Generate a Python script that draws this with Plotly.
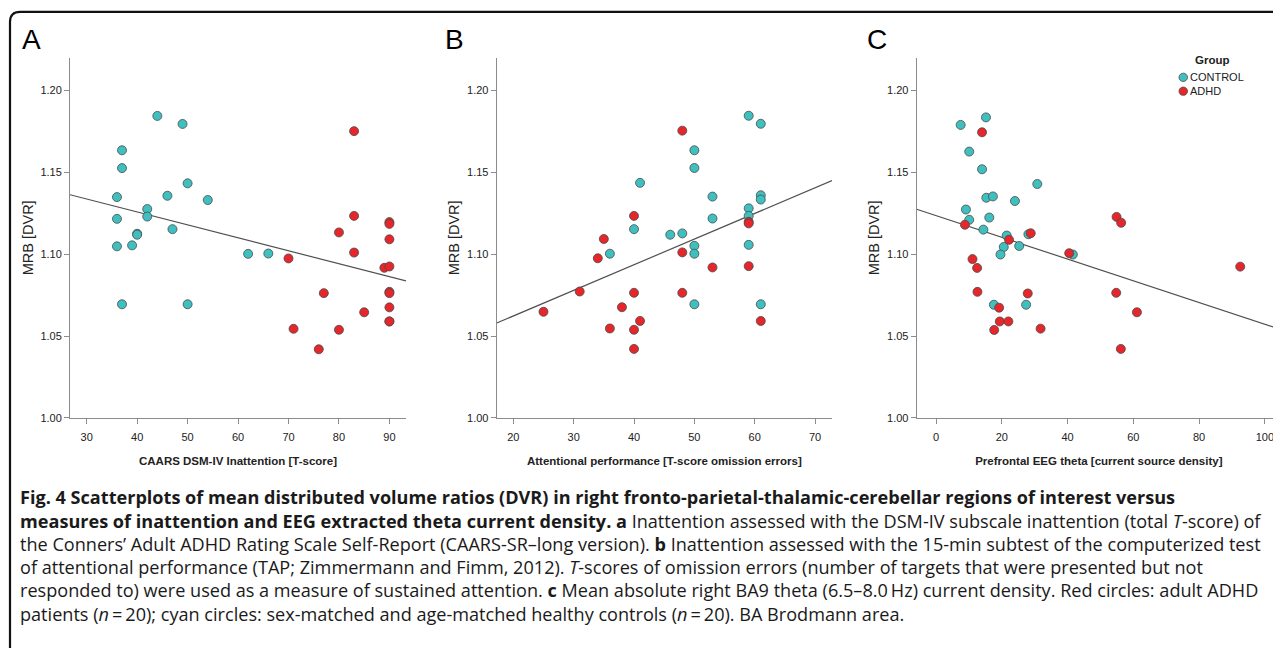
import numpy as np
import plotly.graph_objects as go

# page body has an 8px margin; figure sized to fill the rest of the window
OFF = 8
W, H = 1281 - OFF, 648 - OFF

# ---------------- data ----------------
# Panel A: CAARS DSM-IV Inattention [T-score]
a_ctrl_x = [44, 49, 37, 37, 36, 46, 50, 54, 42, 42, 36, 40, 40, 47, 36, 39, 62, 66, 37, 50]
a_ctrl_y = [1.1845, 1.1796, 1.1635, 1.1526, 1.1349, 1.1357, 1.1433, 1.1331, 1.1276, 1.1230,
            1.1216, 1.1125, 1.1119, 1.1153, 1.1048, 1.1054, 1.1002, 1.1004, 1.0694, 1.0694]
a_adhd_x = [83, 83, 80, 83, 70, 90, 90, 90, 89, 90, 77, 90, 90, 85, 90, 90, 90, 71, 80, 76]
a_adhd_y = [1.1752, 1.1234, 1.1133, 1.1010, 1.0974, 1.1196, 1.1185, 1.1091, 1.0917, 1.0925,
            1.0762, 1.0770, 1.0762, 1.0645, 1.0675, 1.0589, 1.0589, 1.0544, 1.0538, 1.0419]

# Panel B: Attentional performance [T-score omission errors]
b_ctrl_x = [59, 61, 50, 50, 41, 53, 61, 61, 59, 59, 53, 40, 46, 48, 50, 59, 36, 50, 50, 61]
b_ctrl_y = [1.1846, 1.1797, 1.1635, 1.1527, 1.1436, 1.1352, 1.1360, 1.1334, 1.1280, 1.1234,
            1.1218, 1.1153, 1.1119, 1.1127, 1.1051, 1.1057, 1.1003, 1.1003, 1.0694, 1.0694]
b_adhd_x = [48, 40, 35, 34, 48, 59, 59, 53, 59, 31, 40, 48, 38, 25, 41, 61, 36, 40, 40]
b_adhd_y = [1.1755, 1.1234, 1.1093, 1.0975, 1.1011, 1.1198, 1.1188, 1.0919, 1.0927, 1.0772,
            1.0764, 1.0764, 1.0676, 1.0648, 1.0592, 1.0592, 1.0546, 1.0538, 1.0421]

# Panel C: Prefrontal EEG theta [current source density]
c_ctrl_x = [7.5, 15.2, 10.1, 14.0, 30.8, 15.3, 17.3, 24.0, 9.1, 10.1,
            16.2, 14.4, 21.5, 28.1, 20.6, 25.3, 19.6, 41.6, 17.6, 27.4]
c_ctrl_y = [1.1790, 1.1836, 1.1627, 1.1519, 1.1429, 1.1345, 1.1353, 1.1325, 1.1273, 1.1210,
            1.1224, 1.1150, 1.1114, 1.1122, 1.1044, 1.1050, 1.0998, 1.0998, 1.0691, 1.0691]
c_adhd_x = [14.0, 54.9, 56.3, 8.8, 28.8, 22.2, 40.5, 11.1, 12.5, 92.5,
            12.6, 27.9, 54.8, 19.2, 61.1, 19.4, 22.0, 17.7, 31.8, 56.2]
c_adhd_y = [1.1745, 1.1228, 1.1192, 1.1180, 1.1128, 1.1088, 1.1006, 1.0970, 1.0916, 1.0924,
            1.0770, 1.0760, 1.0764, 1.0673, 1.0645, 1.0589, 1.0589, 1.0537, 1.0545, 1.0421]

x_titles = ["CAARS DSM-IV Inattention [T-score]",
            "Attentional performance [T-score omission errors]",
            "Prefrontal EEG theta [current source density]"]
y_title = "MRB [DVR]"
panel_letters = ["A", "B", "C"]
x_ticks = [[30, 40, 50, 60, 70, 80, 90],
           [20, 30, 40, 50, 60, 70],
           [0, 20, 40, 60, 80, 100]]
y_ticks = [1.00, 1.05, 1.10, 1.15, 1.20]
group_names = ["CONTROL", "ADHD"]

caption_lines = [
    "<b>Fig. 4 Scatterplots of mean distributed volume ratios (DVR) in right fronto-parietal-thalamic-cerebellar regions of interest versus</b>",
    "<b>measures of inattention and EEG extracted theta current density. a</b> Inattention assessed with the DSM-IV subscale inattention (total <i>T</i>-score) of",
    "the Conners\u2019 Adult ADHD Rating Scale Self-Report (CAARS-SR\u2013long version). <b>b</b> Inattention assessed with the 15-min subtest of the computerized test",
    "of attentional performance (TAP; Zimmermann and Fimm, 2012). <i>T</i>-scores of omission errors (number of targets that were presented but not",
    "responded to) were used as a measure of sustained attention. <b>c</b> Mean absolute right BA9 theta (6.5\u20138.0\u2009Hz) current density. Red circles: adult ADHD",
    "patients (<i>n</i>\u2009=\u200920); cyan circles: sex-matched and age-matched healthy controls (<i>n</i>\u2009=\u200920). BA Brodmann area.",
]

# ---------------- style ----------------
CYAN = "#40bfbf"
RED = "#e5262b"
EDGE = "#4a4a4a"
AXIS = "#8c8c8c"
TXT = "#222222"
AFONT = "Liberation Sans, Arial, sans-serif"
CFONT = "Open Sans, sans-serif"

# screen-pixel layout (left, right) of each plot area and x ranges
px_x = [(70, 406), (496.7, 832), (916.7, 1281)]
x_ranges = [(26.69, 93.29), (17.25, 72.8), (-5.87, 104.9)]
py_bottom, py_top = 421.7, 58.3
y_range = (1.00, 1.22)

def px2x(p):
    return (p - OFF) / W

def py2y(p):
    return 1 - (p - OFF) / H

fig = go.Figure()

panels = [
    (a_ctrl_x, a_ctrl_y, a_adhd_x, a_adhd_y),
    (b_ctrl_x, b_ctrl_y, b_adhd_x, b_adhd_y),
    (c_ctrl_x, c_ctrl_y, c_adhd_x, c_adhd_y),
]

for i, (cx, cy, rx, ry) in enumerate(panels):
    xa = "x" if i == 0 else f"x{i+1}"
    ya = "y" if i == 0 else f"y{i+1}"
    allx = np.array(cx + rx, dtype=float)
    ally = np.array(cy + ry, dtype=float)
    slope, icpt = np.polyfit(allx, ally, 1)
    lx = np.array(x_ranges[i])
    fig.add_trace(go.Scatter(x=lx, y=slope * lx + icpt, mode="lines",
                             line=dict(color="#505050", width=1.2),
                             xaxis=xa, yaxis=ya, showlegend=False, hoverinfo="skip"))
    fig.add_trace(go.Scatter(x=cx, y=cy, mode="markers", name=group_names[0],
                             marker=dict(color=CYAN, size=9, line=dict(color=EDGE, width=0.8)),
                             xaxis=xa, yaxis=ya, showlegend=False))
    fig.add_trace(go.Scatter(x=rx, y=ry, mode="markers", name=group_names[1],
                             marker=dict(color=RED, size=9, line=dict(color=EDGE, width=0.8)),
                             xaxis=xa, yaxis=ya, showlegend=False))

    xkey = "xaxis" if i == 0 else f"xaxis{i+1}"
    ykey = "yaxis" if i == 0 else f"yaxis{i+1}"
    fig.update_layout(**{
        xkey: dict(domain=[px2x(px_x[i][0]), min(1.0, px2x(px_x[i][1]))], range=list(x_ranges[i]),
                   anchor=ya, showgrid=False, zeroline=False, showline=True,
                   linecolor=AXIS, linewidth=1, ticks="outside", ticklen=5, tickcolor=AXIS,
                   ticklabelstandoff=4,
                   tickvals=x_ticks[i], tickfont=dict(family=AFONT, size=11, color=TXT),
                   title=dict(text=f"<b>{x_titles[i]}</b>", standoff=14,
                              font=dict(family=AFONT, size=11.5, color=TXT))),
        ykey: dict(domain=[py2y(py_bottom), py2y(py_top)], range=list(y_range),
                   anchor=xa, showgrid=False, zeroline=False, showline=True,
                   linecolor=AXIS, linewidth=1, ticks="outside", ticklen=5, tickcolor=AXIS,
                   tickvals=y_ticks, tickformat=".2f",
                   tickfont=dict(family=AFONT, size=11, color=TXT),
                   title=dict(text=y_title, standoff=3,
                              font=dict(family=AFONT, size=14.5, color=TXT))),
    })

annotations = []
letter_px = [20, 443, 865]
for i, L in enumerate(panel_letters):
    annotations.append(dict(text=L, x=px2x(letter_px[i]), y=py2y(40), xref="paper", yref="paper",
                            xanchor="left", yanchor="middle", showarrow=False,
                            font=dict(family=AFONT, size=28, color="#000")))

# legend (manual)
annotations.append(dict(text="<b>Group</b>", x=px2x(1212), y=py2y(60), xref="paper", yref="paper",
                        xanchor="center", yanchor="middle", showarrow=False,
                        font=dict(family=AFONT, size=11.5, color=TXT)))
leg_rows = [(group_names[0], CYAN, 78), (group_names[1], RED, 92)]
shapes = []
for name, col, yy in leg_rows:
    annotations.append(dict(text=name, x=px2x(1188), y=py2y(yy), xref="paper", yref="paper",
                            xanchor="left", yanchor="middle", showarrow=False,
                            font=dict(family=AFONT, size=11, color=TXT)))
    shapes.append(dict(type="circle", xref="paper", yref="paper",
                       x0=px2x(1179), x1=px2x(1187.5), y0=py2y(yy + 4.2), y1=py2y(yy - 4.2),
                       fillcolor=col, line=dict(color=EDGE, width=0.8)))

# caption
cap_y = [502, 525.5, 549, 572.5, 596, 619.5]
for t, yy in zip(caption_lines, cap_y):
    annotations.append(dict(text=t, x=px2x(18), y=py2y(yy), xref="paper", yref="paper",
                            xanchor="left", yanchor="middle", showarrow=False, align="left",
                            font=dict(family=CFONT, size=18.1, color="#1a1a1a")))

# outer rounded frame
x0, y0, r = 10, 12, 10
path = (f"M {px2x(x0)},{py2y(660)} L {px2x(x0)},{py2y(y0 + r)} "
        f"Q {px2x(x0)},{py2y(y0)} {px2x(x0 + r)},{py2y(y0)} L {px2x(1300)},{py2y(y0)}")
shapes.append(dict(type="path", xref="paper", yref="paper", path=path,
                   line=dict(color="#111", width=2.2)))

fig.update_layout(width=W, height=H, margin=dict(l=0, r=0, t=0, b=0),
                  paper_bgcolor="white", plot_bgcolor="white",
                  annotations=annotations, shapes=shapes, showlegend=False)

fig.write_html("out.html")
